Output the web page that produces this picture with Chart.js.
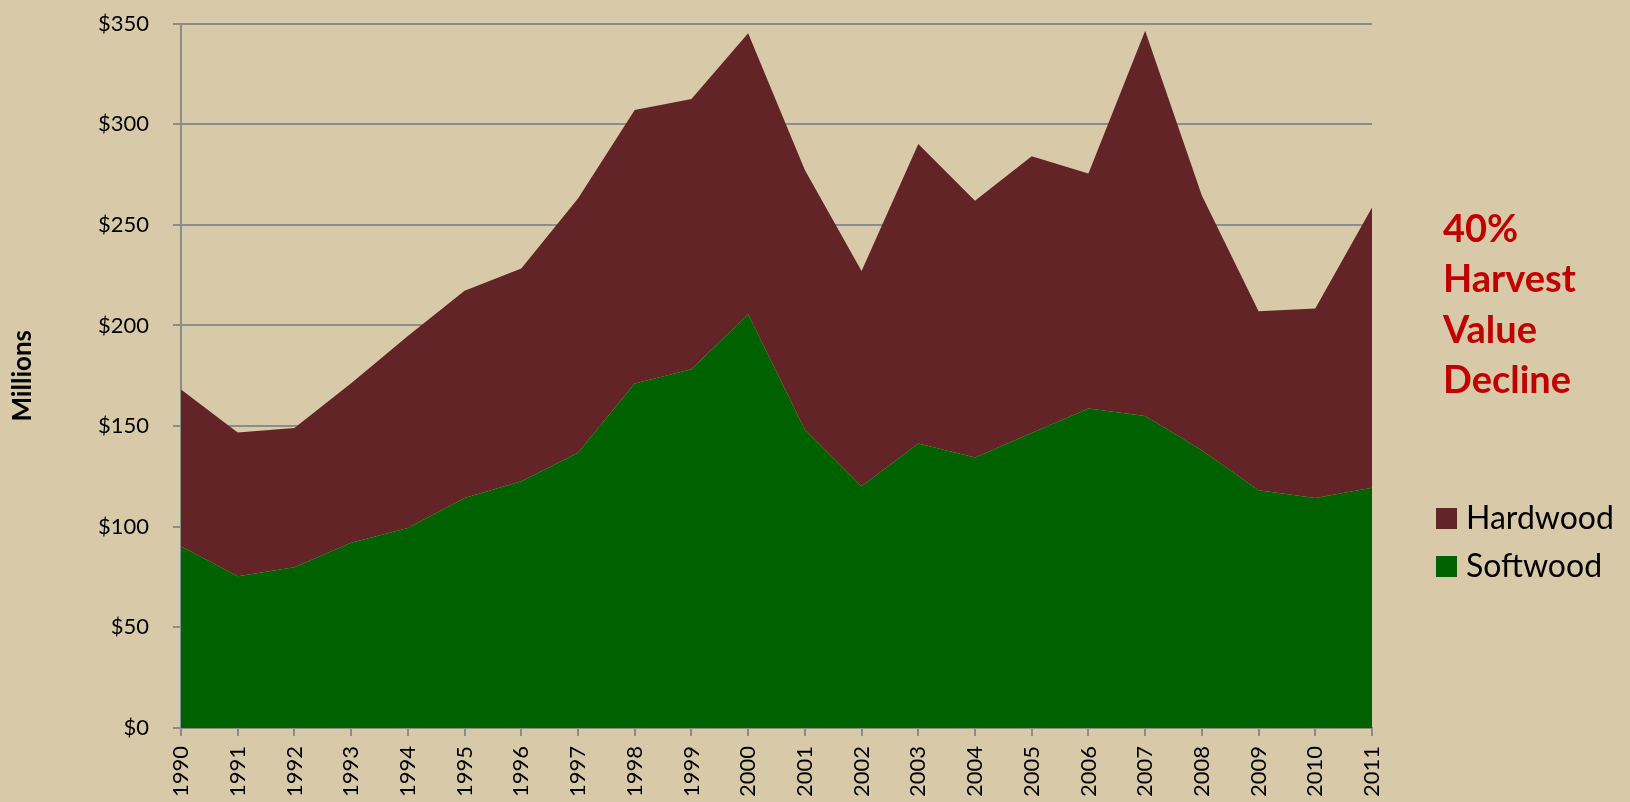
<!DOCTYPE html>
<html>
<head>
<meta charset="utf-8">
<script src="https://cdn.jsdelivr.net/npm/chart.js@4/dist/chart.umd.min.js"></script>
<style>
    html, body { margin: 0; padding: 0; background: #d8caa8; }
    #wrap { position: relative; width: 1630px; height: 802px; }
</style>
</head>
<body>
<div id="wrap"><canvas id="harvest"></canvas></div>
<script>
var years = ["1990", "1991", "1992", "1993", "1994", "1995", "1996", "1997", "1998", "1999", "2000",
    "2001", "2002", "2003", "2004", "2005", "2006", "2007", "2008", "2009", "2010", "2011"];
var softwood = [90.3, 75.4, 79.9, 92.0, 99.4, 114.3, 122.6, 136.7, 171.2, 178.2, 205.6,
    148.3, 120.1, 141.3, 134.4, 146.5, 158.7, 155.0, 138.0, 118.1, 114.3, 119.3];
var hardwood = [77.9, 71.4, 69.2, 79.3, 95.3, 102.9, 105.7, 126.4, 135.8, 134.3, 139.5,
    128.9, 107.0, 148.8, 127.5, 137.6, 116.8, 191.4, 126.5, 89.0, 94.1, 139.3];
var yTicks = [0, 50, 100, 150, 200, 250, 300, 350];
var note = ["40%", "Harvest", "Value", "Decline"];

var gridGray = "#8c8c8c";
var font = "Lato, 'Open Sans', sans-serif";

// legend + red note on the right side
var sidePanel = {
    id: "sidePanel",
    afterDraw: function(chart) {
        var ctx = chart.ctx;
        ctx.save();
        ctx.fillStyle = "#c00000";
        ctx.font = "bold 38px " + font;
        ctx.textBaseline = "alphabetic";
        var baselines = [242, 292, 343, 393];
        for (var i = 0; i < note.length; i++) {
            ctx.fillText(note[i], 1443, baselines[i]);
        }
        var items = chart.data.datasets.slice().reverse();
        ctx.font = "32px " + font;
        ctx.textBaseline = "middle";
        for (var j = 0; j < items.length; j++) {
            var top = 508 + j * 48;
            ctx.fillStyle = items[j].backgroundColor;
            ctx.fillRect(1436, top, 21, 21);
            ctx.fillStyle = "#000";
            ctx.fillText(items[j].label, 1466, top + 11);
        }
        ctx.restore();
    }
};

var chart = new Chart(document.getElementById("harvest"), {
    type: "line",
    data: {
        labels: years,
        datasets: [
            {
                label: "Softwood",
                data: softwood,
                backgroundColor: "#006100",
                borderColor: "#006100",
                borderWidth: 0,
                pointRadius: 0,
                lineTension: 0,
                fill: "origin"
            },
            {
                label: "Hardwood",
                data: hardwood,
                backgroundColor: "#622426",
                borderColor: "#622426",
                borderWidth: 0,
                pointRadius: 0,
                lineTension: 0,
                fill: "-1"
            }
        ]
    },
    options: {
        responsive: true,
        maintainAspectRatio: false,
        animation: false,
        layout: { padding: { top: 23.5, right: 258, left: 0, bottom: 0 } },
        plugins: {
            legend: { display: false },
            tooltip: { enabled: false }
        },
        scales: {
            x: {
                offset: false,
                afterFit: function(scale) {
                    scale.height = 74;
                    scale.paddingLeft = 0;
                    scale.paddingRight = 0;
                    scale.paddingTop = 0;
                    scale.paddingBottom = 0;
                },
                grid: {
                    display: true,
                    drawOnChartArea: false,
                    drawTicks: true,
                    tickLength: 8,
                    color: gridGray,
                    lineWidth: 2
                },
                border: { color: gridGray, width: 2 },
                ticks: {
                    autoSkip: false,
                    minRotation: 90,
                    maxRotation: 90,
                    padding: 10,
                    color: "#000",
                    font: { family: font, size: 22 }
                }
            },
            y: {
                stacked: true,
                min: 0,
                max: 350,
                afterFit: function(scale) {
                    scale.width = 181;
                    scale.paddingTop = 0;
                    scale.paddingBottom = 0;
                },
                afterBuildTicks: function(scale) {
                    scale.ticks = yTicks.map(function(v) { return { value: v }; });
                },
                grid: {
                    color: gridGray,
                    lineWidth: 2,
                    tickLength: 8
                },
                border: { color: gridGray, width: 2 },
                ticks: {
                    padding: 24,
                    color: "#000",
                    font: { family: font, size: 22 },
                    callback: function(v) { return "$" + v; }
                },
                title: {
                    display: true,
                    text: "Millions",
                    color: "#000",
                    padding: { top: 7, bottom: 0 },
                    font: { family: font, size: 26, weight: "bold" }
                }
            }
        }
    },
    plugins: [sidePanel]
});
</script>
</body>
</html>
